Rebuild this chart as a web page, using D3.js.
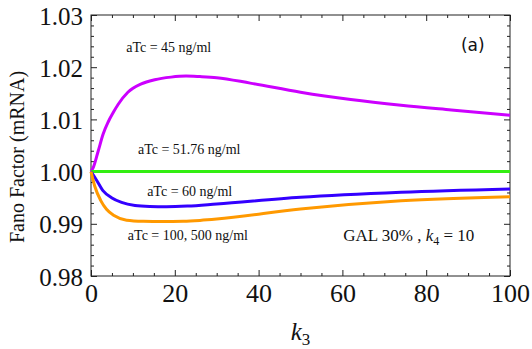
<!DOCTYPE html>
<html><head><meta charset="utf-8">
<script src="https://cdn.jsdelivr.net/npm/d3@7"></script>
<style>body{margin:0;background:#fff}svg{display:block}</style>
</head><body>
<script>
// ---- data ----
const xTicks = [0, 20, 40, 60, 80, 100];
const yTicks = [0.98, 0.99, 1.00, 1.01, 1.02, 1.03];
const yTickLabels = ["0.98", "0.99", "1.00", "1.01", "1.02", "1.03"];

const k3_45 = [0, 0.55, 1.74, 2.9, 4.1, 5.3, 6.5, 8.8, 12, 15.2, 19.1, 22.7, 26, 30, 38, 50, 62, 74, 86, 100];
const ff_45 = [1.0, 1.0008, 1.0040, 1.0072, 1.0095, 1.0113, 1.0129, 1.0152, 1.0168, 1.0176, 1.0181, 1.0183, 1.0182, 1.0180, 1.01695, 1.0152, 1.0138, 1.0127, 1.0118, 1.0108];

const k3_5176 = [0, 100];
const ff_5176 = [1.0, 1.0];

const k3_60 = [0, 1.3, 2.9, 4.9, 7.3, 10.5, 14, 18, 23, 30, 50, 74, 100];
const ff_60 = [1.0, 0.9984, 0.9963, 0.9950, 0.9941, 0.99352, 0.99333, 0.99328, 0.99340, 0.9938, 0.99507, 0.99603, 0.99667];

const k3_100 = [0, 0.9, 2.3, 3.7, 5.5, 8.5, 12.5, 17, 22, 26, 30, 50, 74, 100];
const ff_100 = [1.0, 0.9972, 0.9945, 0.9928, 0.9916, 0.9907, 0.99048, 0.99042, 0.99048, 0.99065, 0.9909, 0.99284, 0.99443, 0.9952];

const seriesNames = ["aTc = 45 ng/ml", "aTc = 51.76 ng/ml", "aTc = 60 ng/ml", "aTc = 100, 500 ng/ml"];
const seriesColors = ["#cc00ff", "#33ee11", "#3300ff", "#ff9900"];

// ---- layout ----
const W = 532, H = 349;
const m = {left: 91, right: 22, top: 15, bottom: 73};
const svg = d3.select("body").append("svg").attr("width", W).attr("height", H);

const x = d3.scaleLinear().domain([0, 100]).range([m.left, W - m.right]);
const y = d3.scaleLinear().domain([0.98, 1.03]).range([H - m.bottom, m.top]);

const serif = "Liberation Serif";

// frame
svg.append("rect").attr("x", x(0)).attr("y", y(1.03))
  .attr("width", x(100) - x(0)).attr("height", y(0.98) - y(1.03))
  .attr("fill", "none").attr("stroke", "#222").attr("stroke-width", 1);

const minorX = d3.range(0, 100.01, 5).filter(v => v % 20 !== 0);
const minorY = d3.range(0, 26).map(i => 0.98 + i * 0.002).filter(v => Math.abs(Math.round(v * 100) - v * 100) > 1e-6);

function tickAxis(axisGen, scale, majors, minors, transform) {
  const gMaj = svg.append("g").attr("transform", transform)
    .call(axisGen(scale).tickValues(majors).tickSize(6).tickFormat(""));
  const gMin = svg.append("g").attr("transform", transform)
    .call(axisGen(scale).tickValues(minors).tickSize(3).tickFormat(""));
  [gMaj, gMin].forEach(g => {
    g.select(".domain").remove();
    g.selectAll("line").attr("stroke", "#222");
  });
}
// inward ticks on all four sides
tickAxis(d3.axisTop, x, xTicks, minorX, `translate(0,${y(0.98)})`);
tickAxis(d3.axisBottom, x, xTicks, minorX, `translate(0,${y(1.03)})`);
tickAxis(d3.axisRight, y, yTicks, minorY, `translate(${x(0)},0)`);
tickAxis(d3.axisLeft, y, yTicks, minorY, `translate(${x(100)},0)`);

// tick labels
const xl = svg.append("g").attr("transform", `translate(0,${y(0.98)})`)
  .call(d3.axisBottom(x).tickValues(xTicks).tickSize(0).tickPadding(8).tickFormat(d3.format("d")));
xl.select(".domain").remove();
xl.attr("font-family", serif).attr("font-size", 26);
xl.selectAll("text").style("font-family", serif).style("font-size", "26px").attr("fill", "#111");

const yl = svg.append("g").attr("transform", `translate(${x(0)},0)`)
  .call(d3.axisLeft(y).tickValues(yTicks).tickSize(0).tickPadding(8).tickFormat((d, i) => yTickLabels[i]));
yl.select(".domain").remove();
yl.attr("font-family", serif).attr("font-size", 25);
yl.selectAll("text").style("font-family", serif).style("font-size", "25px").attr("fill", "#111").attr("dy", "0.36em");

// axis titles
svg.append("text").attr("transform", `translate(24,157) rotate(-90)`)
  .attr("text-anchor", "middle").style("font-family", serif).style("font-size", "20px").attr("fill", "#111")
  .text("Fano Factor (mRNA)");
const xt = svg.append("text").attr("x", x(50)).attr("y", 340).attr("text-anchor", "middle")
  .style("font-family", serif).style("font-size", "25px").attr("fill", "#111");
xt.append("tspan").attr("font-style", "italic").text("k");
xt.append("tspan").style("font-size", "17px").attr("dy", 5).text("3");

// curves
const seriesX = [k3_45, k3_5176, k3_60, k3_100];
const seriesY = [ff_45, ff_5176, ff_60, ff_100];
const line = d3.line().x(d => x(d[0])).y(d => y(d[1])).curve(d3.curveMonotoneX);
const plot = svg.append("g");
seriesX.forEach((xs, i) => {
  plot.append("path").datum(xs.map((v, j) => [v, seriesY[i][j]]))
    .attr("d", line).attr("fill", "none").attr("stroke", seriesColors[i])
    .attr("stroke-width", 3).attr("stroke-linecap", "butt");
});

// annotations
const notes = [
  {t: seriesNames[0], kx: 8.4, vy: 1.0230},
  {t: seriesNames[1], kx: 11.2, vy: 1.0033},
  {t: seriesNames[2], kx: 13.4, vy: 0.9954},
  {t: seriesNames[3], kx: 8.8, vy: 0.9869}
];
notes.forEach(n => {
  svg.append("text").attr("x", x(n.kx)).attr("y", y(n.vy))
    .style("font-family", serif).style("font-size", "14px").attr("fill", "#111").text(n.t);
});
const gal = svg.append("text").attr("x", x(60.2)).attr("y", y(0.9867))
  .style("font-family", serif).style("font-size", "17px").attr("fill", "#111");
gal.append("tspan").text("GAL 30% , ");
gal.append("tspan").attr("font-style", "italic").text("k");
gal.append("tspan").style("font-size", "12px").attr("dy", 4).text("4");
gal.append("tspan").attr("dy", -4).text(" = 10");

svg.append("text").attr("x", x(88.3)).attr("y", y(1.0231))
  .style("font-family", "DejaVu Sans").style("font-size", "17px").attr("fill", "#111")
  .text("(a)");
</script>
</body></html>
